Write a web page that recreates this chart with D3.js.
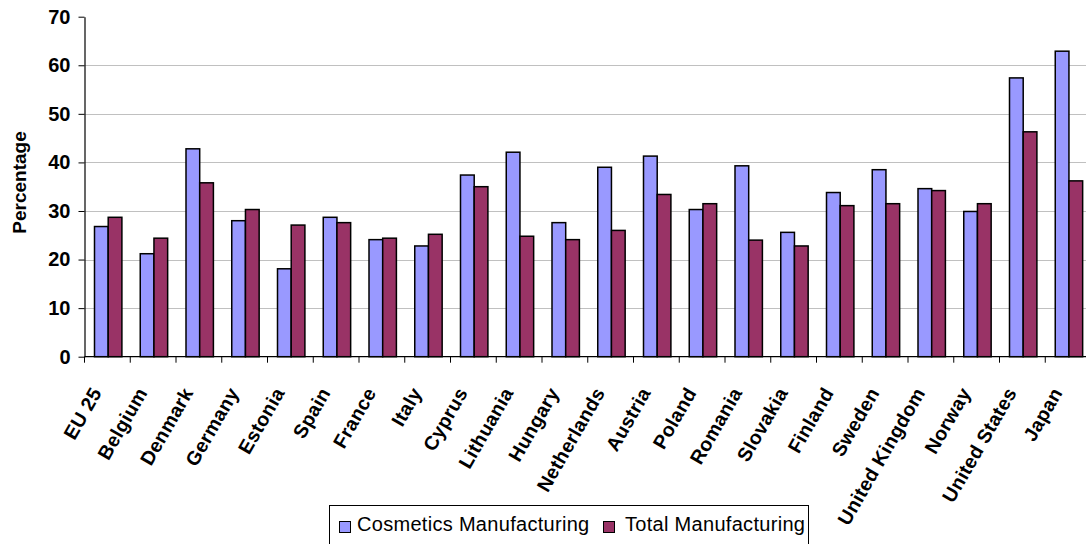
<!DOCTYPE html>
<html>
<head>
<meta charset="utf-8">
<script src="https://cdn.jsdelivr.net/npm/d3@7"></script>
<style>
  html, body { margin: 0; padding: 0; background: #fff; overflow: hidden; }
  svg { display: block; font-family: Arial, "Liberation Sans", sans-serif; }
</style>
</head>
<body>
<svg id="chart" width="1086" height="544"></svg>
<script>
// Share of employment by country: cosmetics vs. total manufacturing (%)
const countries = ["EU 25", "Belgium", "Denmark", "Germany", "Estonia", "Spain", "France", "Italy",
  "Cyprus", "Lithuania", "Hungary", "Netherlands", "Austria", "Poland", "Romania", "Slovakia",
  "Finland", "Sweden", "United Kingdom", "Norway", "United States", "Japan"];
const cosmetics = [26.8, 21.2, 42.8, 28.0, 18.1, 28.7, 24.1, 22.8, 37.4, 42.1, 27.6, 39.0,
  41.3, 30.3, 39.3, 25.6, 33.8, 38.5, 34.6, 29.9, 57.4, 62.9];
const totalManufacturing = [28.7, 24.4, 35.8, 30.3, 27.1, 27.6, 24.4, 25.2, 35.0, 24.8, 24.1, 26.0,
  33.4, 31.5, 24.0, 22.8, 31.1, 31.5, 34.2, 31.5, 46.3, 36.2];
const seriesNames = ["Cosmetics Manufacturing", "Total Manufacturing"];
const seriesColors = ["#9999FF", "#993366"];
const yTicks = [0, 10, 20, 30, 40, 50, 60, 70];
const yTitle = "Percentage";

const svg = d3.select("#chart");
const plotLeft = 84.5, plotRight = 84.5 + 22 * 45.75, plotTop = 16.7, plotBottom = 356.7;

const x0 = d3.scaleBand().domain(countries).range([plotLeft, plotRight]).padding(0);
const groupW = 27.4;
const x1 = d3.scaleBand().domain(seriesNames).range([0, groupW]).padding(0);
const y = d3.scaleLinear().domain([0, 70]).range([plotBottom, plotTop]);

// horizontal gridlines
svg.append("g")
  .selectAll("line")
  .data(yTicks.filter(t => t > 0 && t < 70))
  .join("line")
  .attr("x1", plotLeft).attr("x2", plotRight)
  .attr("y1", d => Math.round(y(d)) + 0.5).attr("y2", d => Math.round(y(d)) + 0.5)
  .attr("stroke", "#c0c0c0").attr("stroke-width", 1);

// bars
const rows = countries.map((c, i) => ({ country: c, values: [cosmetics[i], totalManufacturing[i]] }));
const groups = svg.append("g")
  .selectAll("g")
  .data(rows)
  .join("g")
  .attr("transform", d => `translate(${x0(d.country) + 10},0)`);

groups.selectAll("rect")
  .data(d => d.values.map((v, j) => ({ name: seriesNames[j], value: v, color: seriesColors[j] })))
  .join("rect")
  .attr("x", d => x1(d.name))
  .attr("y", d => y(d.value))
  .attr("width", x1.bandwidth())
  .attr("height", d => y(0) - y(d.value))
  .attr("fill", d => d.color)
  .attr("stroke", "#000")
  .attr("stroke-width", 1.5);

// y axis
const yAxis = svg.append("g")
  .attr("transform", `translate(${plotLeft},0)`)
  .call(d3.axisLeft(y).tickValues(yTicks).tickSize(6).tickPadding(8).tickSizeOuter(0));
yAxis.select(".domain").attr("stroke", "#000").attr("stroke-width", 1.2);
yAxis.selectAll(".tick line").attr("stroke", "#000");
yAxis.selectAll(".tick text")
  .attr("font-size", 20).attr("font-weight", "bold").attr("fill", "#000")
  .attr("font-family", "Arial, 'Liberation Sans', sans-serif");

// x axis: ticks at category boundaries, rotated labels
const xg = svg.append("g");
xg.append("line")
  .attr("x1", plotLeft).attr("x2", plotRight)
  .attr("y1", plotBottom).attr("y2", plotBottom)
  .attr("stroke", "#000").attr("stroke-width", 1.2);
const boundaries = countries.map(c => x0(c)).concat([x0.range()[1]]);
xg.selectAll("line.tick")
  .data(boundaries)
  .join("line")
  .attr("class", "tick")
  .attr("x1", d => d).attr("x2", d => d)
  .attr("y1", plotBottom).attr("y2", plotBottom + 6)
  .attr("stroke", "#000");
xg.selectAll("text")
  .data(countries)
  .join("text")
  .attr("transform", d => `translate(${x0(d) + x0.bandwidth() / 2 - 5},${plotBottom + 36}) rotate(-60)`)
  .attr("text-anchor", "end")
  .attr("font-size", 19.5)
  .attr("letter-spacing", 0.3)
  .attr("font-weight", "bold")
  .attr("fill", "#000")
  .text(d => d);

// y axis title
svg.append("text")
  .attr("transform", `translate(26,182.5) rotate(-90)`)
  .attr("text-anchor", "middle")
  .attr("font-size", 19)
  .attr("font-weight", "bold")
  .attr("fill", "#000")
  .text(yTitle);

// legend
const legend = svg.append("g");
legend.append("rect")
  .attr("x", 329.5).attr("y", 505.5)
  .attr("width", 479).attr("height", 50)
  .attr("fill", "#fff").attr("stroke", "#000").attr("stroke-width", 1);
const legendItems = [
  { name: seriesNames[0], color: seriesColors[0], sx: 339, tx: 357 },
  { name: seriesNames[1], color: seriesColors[1], sx: 603, tx: 625 }
];
const li = legend.selectAll("g.item")
  .data(legendItems)
  .join("g")
  .attr("class", "item");
li.append("rect")
  .attr("x", d => d.sx + 0.5).attr("y", 521.5)
  .attr("width", 11).attr("height", 11)
  .attr("fill", d => d.color).attr("stroke", "#000").attr("stroke-width", 1);
li.append("text")
  .attr("x", d => d.tx).attr("y", 531)
  .attr("font-size", 20)
  .attr("letter-spacing", 0.3)
  .attr("fill", "#000")
  .text(d => d.name);
</script>
</body>
</html>
